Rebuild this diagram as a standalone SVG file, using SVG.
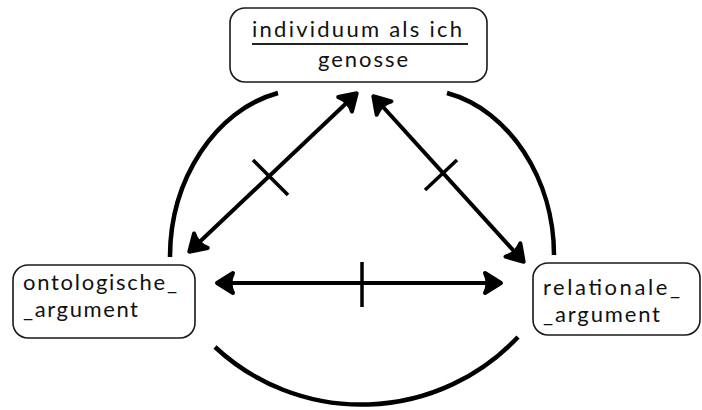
<svg xmlns="http://www.w3.org/2000/svg" width="702" height="410" viewBox="0 0 702 410">
  <style>
    .box { fill: #ffffff; stroke: #1a1a1a; stroke-width: 1.6; }
    .lbl { font-family: Lato, "Open Sans", "DejaVu Sans", sans-serif; font-size: 22px; fill: #111111; }
    .arc { fill: none; stroke: #000; stroke-width: 4.5; }
    .arr { fill: none; stroke: #000; stroke-width: 4; }
    .tick { fill: none; stroke: #000; stroke-width: 3.5; }
  </style>
  <defs>
    <marker id="head" viewBox="-20 -14 26 28" refX="0" refY="0" markerWidth="26" markerHeight="28" markerUnits="userSpaceOnUse" orient="auto-start-reverse">
      <path d="M1,0 L-15,-10 Q-10,0 -15,10 Z" fill="#000" stroke="#000" stroke-width="4" stroke-linejoin="round"/>
    </marker>
  </defs>
  <rect width="702" height="410" fill="#ffffff"/>

  <g id="circle-arcs">
    <path class="arc" d="M278,93 C215,110 170,180 170,257"/>
    <path class="arc" d="M447,93 C510,110 554,180 554,255"/>
    <path class="arc" d="M215,347 A215,215 0 0 0 518,337"/>
  </g>

  <g id="connectors">
    <line class="arr" x1="190" y1="251" x2="356" y2="94" marker-start="url(#head)" marker-end="url(#head)"/>
    <line class="arr" x1="374" y1="97" x2="523" y2="261" marker-start="url(#head)" marker-end="url(#head)"/>
    <line class="arr" x1="218" y1="283" x2="500" y2="283" marker-start="url(#head)" marker-end="url(#head)"/>
    <line class="tick" x1="253" y1="160" x2="288" y2="195"/>
    <line class="tick" x1="457" y1="160" x2="425" y2="190"/>
    <line class="tick" x1="362" y1="262" x2="362" y2="307"/>
  </g>

  <g id="node-individuum">
    <rect class="box" x="230" y="8" width="257" height="74" rx="15" ry="15"/>
    <text class="lbl" x="252" y="36.5" textLength="210" lengthAdjust="spacing">individuum  als  ich</text>
    <line x1="252" y1="44" x2="468" y2="44" stroke="#222" stroke-width="2"/>
    <text class="lbl" x="318" y="67" textLength="90" lengthAdjust="spacing">genosse</text>
  </g>

  <g id="node-ontologische">
    <rect class="box" x="13" y="265" width="182" height="73" rx="15" ry="15"/>
    <text class="lbl" x="23" y="290" textLength="154" lengthAdjust="spacing">ontologische_</text>
    <text class="lbl" x="23" y="317" textLength="115" lengthAdjust="spacing">_argument</text>
  </g>

  <g id="node-relationale">
    <rect class="box" x="533" y="263" width="167" height="72" rx="15" ry="15"/>
    <text class="lbl" x="543" y="294.5" textLength="137" lengthAdjust="spacing">relationale_</text>
    <text class="lbl" x="543" y="321.5" textLength="117" lengthAdjust="spacing">_argument</text>
  </g>
</svg>
